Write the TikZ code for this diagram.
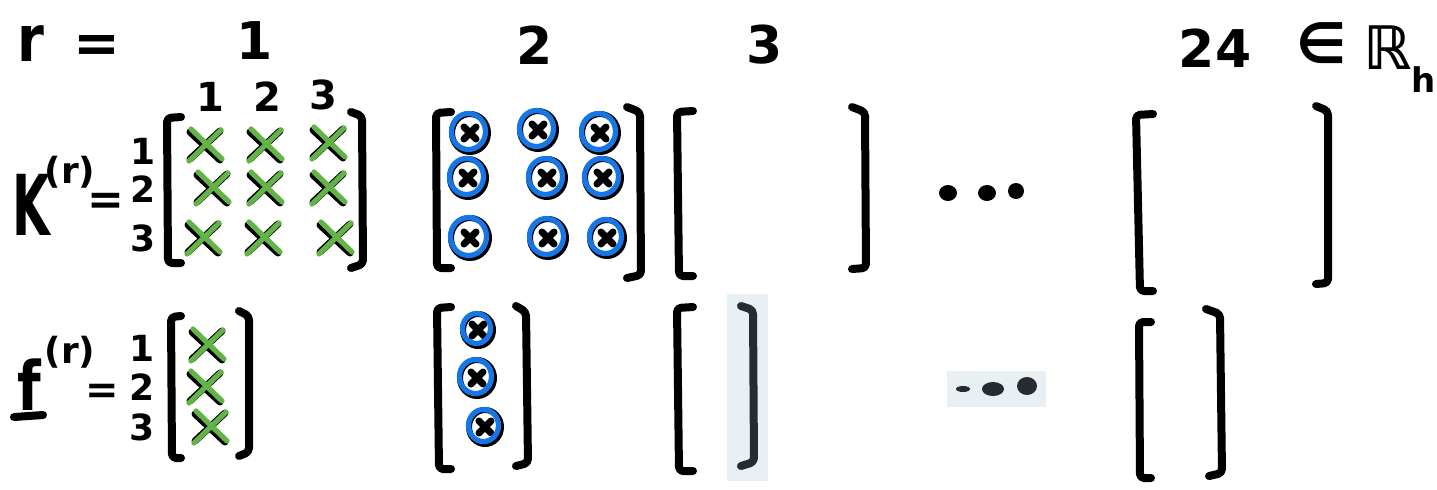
\documentclass[tikz,border=0pt]{standalone}
\usepackage{fontspec}
\setmainfont{DejaVu Sans}
\definecolor{grn}{RGB}{98,180,70}
\definecolor{blu}{RGB}{22,118,230}
\definecolor{pale}{RGB}{232,240,243}
\definecolor{ink}{RGB}{40,44,50}
\newcommand\txt[1]{\fontsize{#1}{#1}\selectfont\bfseries}
\newcommand\GX[2]{%
  \begin{scope}[shift={(#1,#2)}]
    \draw[blkx] (-15,-13) -- (15,15) (-15,14) -- (15,-14);
    \draw[grnx] (-14,-16) -- (17,14) (-16,16) -- (16,-15);
  \end{scope}}
\newcommand\BO[3]{%
  \begin{scope}[shift={(#1,#2)}]
    \draw[ringk] (0,0) ellipse [x radius=#3, y radius=#3+1];
    \draw[blkx] (-6,-6) -- (6,6) (-6,6) -- (6,-6);
    \draw[ringb] (-1.5,-1.5) ellipse [x radius=#3-1, y radius=#3];
  \end{scope}}
\tikzset{
  lbl/.style={inner sep=0pt, anchor=center},
  brk/.style={line width=4pt, line cap=round, line join=round, rounded corners=2pt},
  blkx/.style={line width=3.5pt, line cap=round, black},
  grnx/.style={line width=2.6pt, line cap=round, grn},
  ringk/.style={line width=3pt, black},
  ringb/.style={line width=2.6pt, blu},
  dot/.style={fill=black, draw=none}
}
\begin{document}
\begin{tikzpicture}[x=0.5pt, y=-0.5pt]
\path[use as bounding box, fill=white] (0,0) rectangle (1437,489);
% pale scan patches
\fill[pale] (727,294) rectangle (768,481);
\fill[pale] (947,371) rectangle (1046,407);

% header row
\node[lbl, font=\txt{32}] (r) at (31,44) {\scalebox{0.85}[1]{r}};
\node[lbl, font=\txt{28}] (eq0) at (97,49) {=};
\node[lbl, font=\txt{26}] (c1) at (255,41) {1};
\node[lbl, font=\txt{26}] (c2) at (535,45) {2};
\node[lbl, font=\txt{26}] (c3) at (765,45) {3};
\node[lbl, font=\txt{26}] (c24) at (1215,48) {24};
\node[lbl, font=\txt{28}] (in) at (1322,43) {∈};
\node[lbl, font=\txt{30}] (R) at (1388,48) {ℝ};
\node[lbl, font=\txt{17}] (h) at (1424,80) {h};

% K label
\node[lbl, font=\txt{42}] (K) at (31,205) {\scalebox{0.58}[1]{K}};
\node[lbl, font=\txt{18}] (Ksup) at (70,172) {(r)};
\node[lbl, font=\txt{22}] (Keq) at (106,204) {=};
\node[lbl, font=\txt{18}] (kr1) at (143,151) {1};
\node[lbl, font=\txt{18}] (kr2) at (143,189) {2};
\node[lbl, font=\txt{18}] (kr3) at (143,238) {3};
\node[lbl, font=\txt{20}] (kc1) at (210,97) {1};
\node[lbl, font=\txt{20}] (kc2) at (267,97) {2};
\node[lbl, font=\txt{20}] (kc3) at (323,95) {3};

% f label
\node[lbl, font=\txt{34}] (f) at (29,385) {\scalebox{0.8}[1]{f}};
\draw[line width=4pt, line cap=round] (14,417) -- (43,415);
\node[lbl, font=\txt{18}] (fsup) at (70,352) {(r)};
\node[lbl, font=\txt{20}] (feq) at (102,394) {=};
\node[lbl, font=\txt{18}] (fr1) at (142,348) {1};
\node[lbl, font=\txt{18}] (fr2) at (142,387) {2};
\node[lbl, font=\txt{18}] (fr3) at (142,427) {3};

% brackets K
\draw[brk] (181,117) -- (167,118) -- (168,263) -- (181,263);
\draw[brk] (351,112) -- (362,116) -- (363,264) -- (351,268);
\draw[brk] (451,112) -- (436,113) -- (437,268) -- (451,268);
\draw[brk] (627,107) -- (640,112) -- (641,275) -- (627,278);
\draw[brk] (693,111) -- (677,112) -- (679,276) -- (693,276);
\draw[brk] (852,107) -- (865,112) -- (866,268) -- (852,269);
\draw[brk] (1153,114) -- (1136,115) -- (1140,291) -- (1153,291);
\draw[brk] (1316,106) -- (1328,111) -- (1328,283) -- (1316,284);

% brackets f
\draw[brk] (181,316) -- (171,317) -- (172,458) -- (181,458);
\draw[brk] (239,311) -- (249,316) -- (249,452) -- (239,456);
\draw[brk] (451,307) -- (437,308) -- (439,469) -- (451,469);
\draw[brk] (516,306) -- (526,312) -- (528,463) -- (516,466);
\draw[brk] (693,307) -- (677,308) -- (679,471) -- (693,471);
\draw[brk, ink] (741,306) -- (753,310) -- (754,462) -- (741,466);
\draw[brk] (1151,322) -- (1139,322) -- (1140,478) -- (1151,478);
\draw[brk] (1206,309) -- (1220,314) -- (1222,473) -- (1209,476);

% green crosses
\GX{205}{145}\GX{265}{145}\GX{328}{143}
\GX{212}{188}\GX{265}{188}\GX{328}{188}
\GX{203}{238}\GX{263}{238}\GX{335}{238}
\GX{207}{345}\GX{205}{387}\GX{210}{427}

% circled entries
\BO{470}{133}{18}\BO{538}{130}{18}\BO{600}{133}{18}
\BO{468}{178}{18}\BO{547}{178}{18}\BO{603}{178}{18}
\BO{470}{238}{19}\BO{548}{238}{18}\BO{607}{238}{17}
\BO{478}{330}{15}\BO{477}{378}{17}\BO{485}{427}{16}

% dots
\fill[dot] (948,193) ellipse [x radius=9, y radius=8];
\fill[dot] (987,193) ellipse [x radius=9, y radius=8];
\fill[dot] (1016,191) ellipse [x radius=8, y radius=8];
\fill[ink] (963,389) ellipse [x radius=7, y radius=3];
\fill[ink] (993,389) ellipse [x radius=11, y radius=7];
\fill[ink] (1027,386) ellipse [x radius=10, y radius=9];
\end{tikzpicture}
\end{document}
